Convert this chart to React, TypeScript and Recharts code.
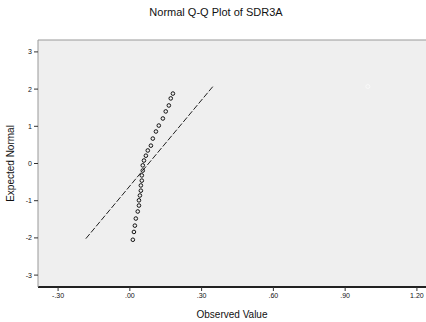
import { ComposedChart, Scatter, XAxis, YAxis, CartesianGrid, ReferenceLine } from "recharts";

const observed = [
  0.0125, 0.017, 0.021, 0.025, 0.033, 0.038, 0.038, 0.042, 0.046, 0.046, 0.05, 0.05, 0.054,
  0.054, 0.059, 0.067, 0.075, 0.088, 0.096, 0.109, 0.121, 0.138, 0.15, 0.163, 0.171, 0.18,
];
const expected = [
  -2.05, -1.84, -1.67, -1.48, -1.29, -1.13, -0.99, -0.86, -0.73, -0.59, -0.46, -0.32, -0.19,
  -0.05, 0.08, 0.21, 0.35, 0.48, 0.67, 0.86, 1.02, 1.21, 1.4, 1.56, 1.75, 1.88,
];
const outlierObserved = [0.995];
const outlierExpected = [2.07];

// reference normal line endpoints
const lineX = [-0.184, 0.351];
const lineY = [-2.02, 2.1];

const xTicks = [-0.3, 0, 0.3, 0.6, 0.9, 1.2];
const yTicks = [-3, -2, -1, 0, 1, 2, 3];

const points = observed.map((x, i) => ({ x, y: expected[i] }));
const outliers = outlierObserved.map((x, i) => ({ x, y: outlierExpected[i] }));
const normalLine = lineX.map((x, i) => ({ x, y: lineY[i] }));

const FONT = "'Liberation Sans', Arial, sans-serif";

const fmtX = (v: number) => {
  const s = v.toFixed(2);
  return s.replace(/^(-?)0\./, "$1.");
};

const Dot = (props: any) => {
  const { cx, cy } = props;
  return <circle cx={cx} cy={cy} r={1.8} fill="none" stroke="#111" strokeWidth={1} />;
};

const FaintDot = (props: any) => {
  const { cx, cy } = props;
  return <circle cx={cx} cy={cy} r={2} fill="none" stroke="#fafafa" strokeWidth={0.8} />;
};

const NoDot = () => <g />;

export default function App() {
  return (
    <div style={{ position: "absolute", left: 0, top: 0, width: 426, height: 322, background: "#fff", fontFamily: FONT }}>
      <div
        style={{
          position: "absolute",
          top: 6,
          left: 0,
          width: 432,
          textAlign: "center",
          fontSize: 11,
          color: "#111",
        }}
      >
        Normal Q-Q Plot of SDR3A
      </div>
      <ComposedChart
        width={426}
        height={322}
        margin={{ top: 40, right: 0, bottom: 0, left: 8 }}
      >
        <CartesianGrid fill="#efefef" horizontal={false} vertical={false} />
        <ReferenceLine y={3.32} stroke="#999" strokeWidth={1} ifOverflow="extendDomain" />
        <XAxis
          type="number"
          dataKey="x"
          domain={[-0.384, 1.238]}
          ticks={xTicks}
          tickFormatter={fmtX}
          allowDataOverflow
          height={35}
          axisLine={{ stroke: "#222", strokeWidth: 2 }}
          tickLine={{ stroke: "#333" }}
          tickSize={4}
          tick={{ fontSize: 7, fill: "#111", fontFamily: FONT }}
          label={{ value: "Observed Value", position: "insideBottom", offset: 4, fontSize: 10, fill: "#111", fontFamily: FONT }}
        />
        <YAxis
          type="number"
          dataKey="y"
          domain={[-3.32, 3.32]}
          ticks={yTicks}
          allowDataOverflow
          width={30}
          axisLine={{ stroke: "#999" }}
          tickLine={{ stroke: "#333" }}
          tickSize={4}
          tick={{ fontSize: 7, fill: "#111", fontFamily: FONT }}
          label={{ value: "Expected Normal", angle: -90, position: "insideLeft", offset: 2, fontSize: 10, fill: "#111", fontFamily: FONT, style: { textAnchor: "middle" } }}
        />
        <Scatter
          data={normalLine}
          line={{ stroke: "#222", strokeWidth: 1, strokeDasharray: "6 2" }}
          shape={NoDot}
          isAnimationActive={false}
        />
        <Scatter data={points} shape={Dot} isAnimationActive={false} />
        <Scatter data={outliers} shape={FaintDot} isAnimationActive={false} />
      </ComposedChart>
    </div>
  );
}
